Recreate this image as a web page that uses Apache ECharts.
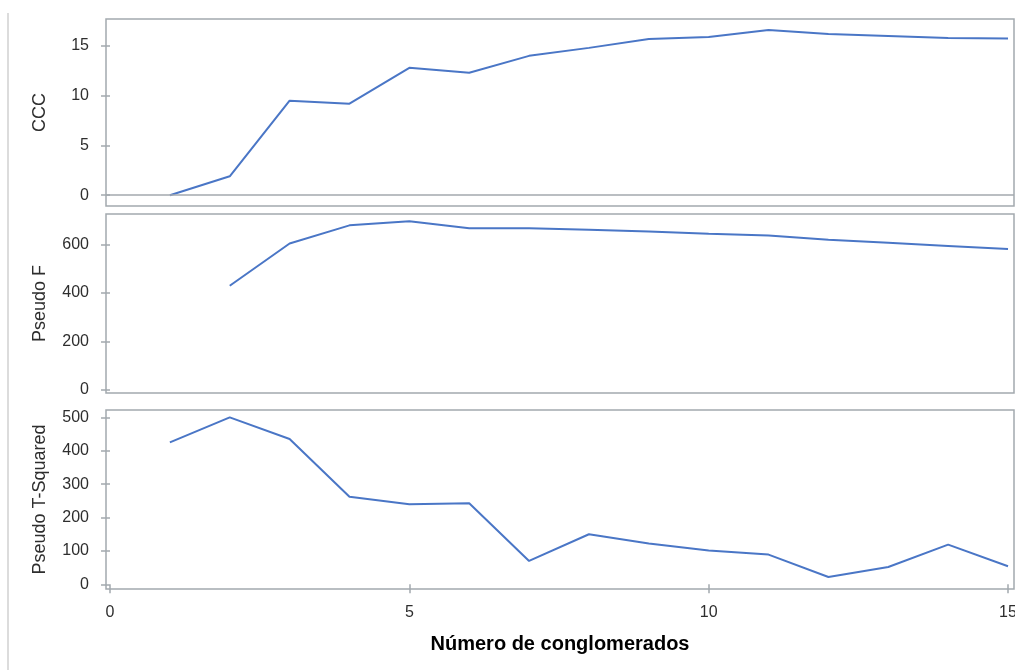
<!DOCTYPE html>
<html>
<head>
<meta charset="utf-8">
<script src="https://cdn.jsdelivr.net/npm/echarts@6/dist/echarts.min.js"></script>
<style>
html,body{margin:0;padding:0;background:#fff;}
#chart{width:1015px;height:670px;}
</style>
</head>
<body>
<div id="chart"></div>
<script>
// ---- data ----
const clusters = [1,2,3,4,5,6,7,8,9,10,11,12,13,14,15];
const cccValues = [0,1.9,9.5,9.2,12.8,12.3,14.0,14.8,15.7,15.9,16.6,16.2,16.0,15.8,15.75];
const pseudoFValues = [null,430,605,680,697,668,668,662,655,645,638,620,608,595,582];
const pseudoT2Values = [425,500,435,262,240,243,70,150,122,101,89,22,52,119,54];
const xTicks = [0,5,10,15];
const cccTicks = [0,5,10,15];
const fTicks = [0,200,400,600];
const t2Ticks = [0,100,200,300,400,500];
const panelNames = ['CCC','Pseudo F','Pseudo T-Squared'];
const xTitle = 'Número de conglomerados';

const pair = (vals) => clusters.map((c,i) => [c, vals[i]]);

const lineColor = '#4a76c6';
const frameColor = '#a3a9ae';
const labelColor = '#2e2e2e';
const fontFamily = 'Liberation Sans, Arial, sans-serif';

const grids = [
  {left:106, right:1, top:19, height:187},
  {left:106, right:1, top:214, height:179},
  {left:106, right:1, top:410, height:179}
].map(g => Object.assign(g, {show:true, borderColor:frameColor, borderWidth:1.5, containLabel:false, outerBoundsMode:'none'}));

const xMin = -0.067, xMax = 15.1;
const xAxes = [0,1,2].map(i => ({
  type:'value', gridIndex:i, min:xMin, max:xMax,
  axisLine:{show:false},
  splitLine:{show:false},
  axisTick:{show:i===2, customValues:xTicks, length:9, lineStyle:{color:frameColor, width:1.5}},
  axisLabel:{show:i===2, customValues:xTicks, color:labelColor, fontSize:16, fontFamily, margin:16, hideOverlap:false},
  name: i===2 ? xTitle : '',
  nameLocation:'middle', nameGap:45,
  nameTextStyle:{color:'#000', fontSize:20, fontWeight:'bold', fontFamily}
}));

const yRanges = [[-1.08,17.7],[-14,727],[-14,522]];
const yTicks = [cccTicks, fTicks, t2Ticks];
const yAxes = [0,1,2].map(i => ({
  type:'value', gridIndex:i, min:yRanges[i][0], max:yRanges[i][1],
  axisLine:{show:false},
  splitLine:{show:false},
  axisTick:{show:true, customValues:yTicks[i], length:9, lineStyle:{color:frameColor, width:1.5}},
  axisLabel:{customValues:yTicks[i], color:labelColor, fontSize:16, fontFamily, margin:17},
  name: panelNames[i], nameLocation:'middle', nameGap:57,
  nameTextStyle:{color:labelColor, fontSize:18, fontFamily}
}));

const mkSeries = (vals, i, extra) => Object.assign({
  type:'line', xAxisIndex:i, yAxisIndex:i, data:pair(vals),
  showSymbol:false, symbol:'none', connectNulls:false,
  lineStyle:{color:lineColor, width:2}, itemStyle:{color:lineColor},
  animation:false, silent:true
}, extra||{});

const chart = echarts.init(document.getElementById('chart'), null, {renderer:'canvas'});
chart.setOption({
  backgroundColor:'#fff',
  animation:false,
  grid: grids,
  xAxis: xAxes,
  yAxis: yAxes,
  graphic:[{type:'line', shape:{x1:8, y1:13, x2:8, y2:670}, style:{stroke:'#d0d0d0', lineWidth:1.5}, silent:true}],
  series:[
    mkSeries(cccValues, 0, {markLine:{silent:true, symbol:'none', label:{show:false}, lineStyle:{color:frameColor, type:'solid', width:1.5}, data:[{yAxis:0}]}}),
    mkSeries(pseudoFValues, 1),
    mkSeries(pseudoT2Values, 2)
  ]
});
</script>
</body>
</html>
